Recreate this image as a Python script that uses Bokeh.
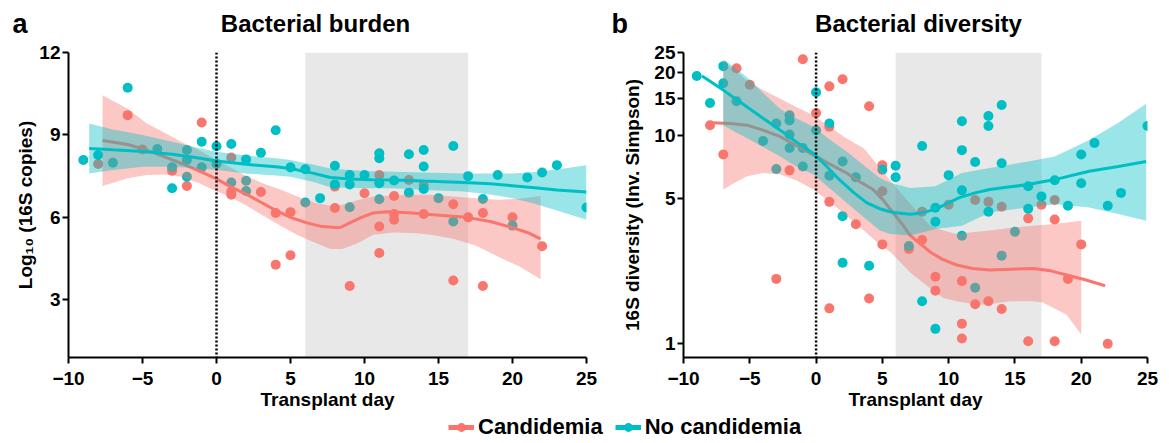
from bokeh.plotting import figure
from bokeh.layouts import row, column
from bokeh.models import (Range1d, FixedTicker, Span, BoxAnnotation, Label, Legend,
                          LegendItem, PrintfTickFormatter)
from bokeh.embed import file_html
from bokeh.resources import INLINE

RED = "#F8766D"
TEAL = "#00BFC4"
FONT = "Liberation Sans"

# ---------------- data: panel a (bacterial burden, log10 16S copies) ----------------
burden_cand_day = [-8, -6, -5, -3, -2, -1, 1, 1, 1, 3, 4, 4, 5, 5, 8, 8, 9, 10, 11, 11, 11,
                   12, 12, 12, 13, 14, 14, 16, 16, 17, 18, 18, 20, 22]
burden_cand_val = [7.94, 9.72, 8.47, 7.7, 7.14, 9.45, 8.18, 6.94, 6.82, 6.92, 6.16, 4.28, 6.19, 4.62,
                   7.12, 6.34, 3.5, 6.88, 7.54, 5.67, 4.7, 6.78, 6.12, 5.91, 7.36, 7.18, 6.12, 6.48,
                   3.7, 6.0, 6.16, 3.5, 6.0, 4.95]
burden_nocand_day = [-9, -8, -7, -6, -4, -3, -3, -2, -2, -2, -1, -1, 0, 0, 1, 1, 2, 2, 2, 3, 4, 5,
                     6, 6, 7, 8, 8, 9, 9, 9, 10, 11, 11, 11, 11, 12, 13, 13, 14, 14, 14, 15, 16, 16,
                     17, 18, 19, 20, 21, 22, 23, 25]
burden_nocand_val = [8.09, 8.27, 7.99, 10.72, 8.49, 7.82, 7.06, 8.45, 8.09, 7.48, 8.75, 7.82, 8.59,
                     7.95, 8.67, 7.27, 8.11, 7.33, 6.96, 8.35, 9.17, 7.82, 7.75, 6.54, 6.7, 7.88, 7.2,
                     7.54, 7.2, 6.37, 7.54, 8.33, 8.15, 7.24, 6.66, 7.34, 8.3, 6.9, 8.45, 7.85, 7.03,
                     6.7, 8.6, 5.85, 7.5, 6.67, 7.54, 5.7, 7.45, 7.63, 7.9, 6.36]

# smooth fits
burden_cand_fit_day = [-7.7, -6, -4.7, -3.5, -2.4, -1, 0, 1, 2.1, 3, 3.9, 5, 6.1, 7, 8, 8.4, 9, 9.8,
                       10.6, 11.5, 13, 14, 15.5, 16.9, 18.5, 20.1, 21, 21.9]
burden_cand_fit = [8.8, 8.65, 8.45, 8.2, 7.97, 7.65, 7.4, 7.1, 6.82, 6.55, 6.28, 6.0, 5.8, 5.68, 5.63,
                   5.64, 5.8, 6.0, 6.16, 6.2, 6.17, 6.12, 6.06, 6.0, 5.85, 5.61, 5.45, 5.22]
burden_cand_ci_day = [-7.7, -6, -4.7, -3.5, -2.4, -1.2, -0.2, 1, 2.1, 3.2, 4.4, 5.5, 6.7, 7.7, 8.5,
                      9.5, 10.6, 12, 13.5, 14.5, 16, 17.5, 19, 20.5, 21.9]
burden_cand_hi = [10.44, 9.95, 9.42, 9.08, 8.75, 8.45, 8.15, 7.8, 7.48, 7.22, 7.0, 6.75, 6.52, 6.42,
                  6.46, 6.62, 6.76, 6.8, 6.82, 6.82, 6.76, 6.7, 6.64, 6.68, 6.78]
burden_cand_lo = [7.14, 7.42, 7.54, 7.56, 7.48, 7.25, 7.0, 6.72, 6.4, 6.05, 5.67, 5.35, 5.07, 4.85,
                  4.85, 5.05, 5.37, 5.45, 5.42, 5.37, 5.22, 4.98, 4.58, 4.2, 3.75]
burden_nocand_fit_day = [-8.6, -7, -5, -3, -1, 0, 2, 4, 5, 6.5, 7.7, 9, 10.5, 12, 14, 16.7, 18.5,
                         20, 21.5, 23, 25]
burden_nocand_fit = [8.51, 8.46, 8.4, 8.3, 8.14, 8.05, 7.93, 7.84, 7.78, 7.61, 7.45, 7.4, 7.37, 7.36,
                     7.32, 7.27, 7.22, 7.15, 7.08, 7.0, 6.92]
burden_nocand_hi = [9.42, 9.2, 9.0, 8.75, 8.5, 8.39, 8.25, 8.15, 8.09, 7.92, 7.78, 7.72, 7.68, 7.66,
                    7.63, 7.6, 7.6, 7.6, 7.65, 7.74, 7.9]
burden_nocand_lo = [7.6, 7.72, 7.84, 7.84, 7.78, 7.72, 7.6, 7.52, 7.48, 7.3, 7.1, 7.08, 7.06, 7.06,
                    7.0, 6.94, 6.83, 6.7, 6.5, 6.25, 5.91]

# ---------------- data: panel b (bacterial diversity, inverse Simpson) ----------------
div_cand_day = [-8, -7, -6, -5, -3, -2, -1, 0, 1, 1, 1, 1, 2, 3, 4, 4, 5, 5, 5, 7, 8, 8, 9, 9, 10,
                11, 11, 11, 12, 12, 13, 13, 14, 14, 16, 16, 17, 18, 18, 18, 19, 20, 22]
div_cand_val = [11.2, 8.1, 21, 17.5, 2.05, 6.8, 23.2, 12.8, 17.2, 11.0, 4.8, 1.48, 18.6, 3.75, 13.8,
                1.65, 7.2, 5.4, 3.0, 2.85, 4.3, 3.15, 2.1, 1.8, 4.65, 2.0, 1.25, 1.06, 4.9, 1.55,
                4.8, 1.6, 4.55, 1.47, 4.0, 1.03, 4.65, 4.9, 3.95, 1.03, 2.05, 3.0, 1.0]
div_nocand_day = [-9, -8, -7, -7, -6, -4, -3, -3, -2, -2, -2, -2, -1, -1, 0, 0, 1, 1, 2, 2, 2, 3, 4,
                  5, 6, 6, 7, 8, 8, 9, 9, 9, 10, 11, 11, 11, 11, 12, 12, 13, 13, 13, 14, 14, 14, 15,
                  16, 16, 17, 18, 19, 20, 20, 21, 22, 23, 25]
div_nocand_val = [19.3, 14.3, 21.5, 17.8, 14.6, 9.4, 11.4, 6.9, 12.5, 11.8, 10.1, 8.7, 8.7, 7.1,
                  16.1, 10.6, 11.4, 6.4, 7.5, 4.1, 2.45, 6.3, 2.37, 6.85, 7.15, 6.3, 2.95, 8.9, 1.6,
                  4.5, 3.85, 1.18, 6.45, 11.7, 8.5, 5.45, 3.3, 7.45, 1.86, 12.4, 11.1, 4.3, 14.0,
                  7.35, 2.65, 3.45, 5.7, 4.45, 5.1, 6.1, 4.6, 8.1, 5.9, 9.2, 4.6, 5.3, 11.1]

div_cand_fit_day = [-7.85, -6.5, -5.2, -4, -2.7, -1.5, -0.2, 1, 2.3, 3.3, 4.3, 5, 5.8, 6.5, 7.1,
                    8.6, 9.5, 10.6, 11.8, 13.1, 14.7, 16.4, 17.7, 18.9, 20.3, 21.8]
div_cand_fit = [11.5, 11.4, 11.2, 10.6, 9.86, 8.95, 8.07, 7.3, 6.6, 6.0, 5.5, 4.95, 4.27, 3.75,
                3.31, 2.76, 2.55, 2.39, 2.3, 2.26, 2.28, 2.3, 2.24, 2.14, 2.03, 1.9]
div_cand_ci_day = [-7, -6, -5.2, -4, -2.7, -1.5, -0.2, 1, 2.3, 3.6, 4.8, 5.6, 6.4, 7.1, 8.6, 9.6,
                   10.6, 12.1, 13.1, 14.6, 16.4, 17.1, 18.9, 20]
div_cand_hi = [22.7, 20.2, 18.3, 16.5, 15.0, 13.7, 12.5, 11.0, 9.68, 8.67, 7.0, 6.1, 5.3, 4.7,
               3.69, 3.5, 3.37, 3.45, 3.5, 3.6, 3.69, 3.72, 3.82, 3.9]
div_cand_lo = [5.5, 6.0, 6.37, 6.6, 6.5, 6.1, 5.5, 4.8, 4.12, 3.5, 3.0, 2.76, 2.45, 2.2, 1.85,
               1.66, 1.6, 1.54, 1.55, 1.6, 1.6, 1.58, 1.38, 1.11]
div_nocand_fit_day = [-8.6, -7, -5.2, -4, -2.7, -1.5, -0.2, 0.8, 1.8, 2.8, 3.8, 4.8, 5.8, 7.1, 8,
                      9, 10, 10.8, 12, 13.1, 14.5, 16, 18, 20.6, 22.8, 24.9]
div_nocand_fit = [19.3, 16.5, 13.7, 12.1, 10.6, 9.3, 8.2, 7.1, 6.1, 5.35, 4.76, 4.45, 4.27, 4.19,
                  4.25, 4.43, 4.75, 5.03, 5.3, 5.5, 5.65, 5.81, 6.14, 6.73, 7.1, 7.5]
div_nocand_ci_day = [-7, -6, -5.2, -4, -2.7, -1.5, -0.2, 1, 2.3, 3.6, 4.8, 5.6, 7.1, 9, 11, 13.1,
                     16, 18, 20.6, 22.8, 24.9]
div_nocand_hi = [23.2, 20.8, 19.0, 16.0, 13.4, 12.1, 11.0, 9.6, 8.37, 7.2, 6.25, 5.93, 5.6, 5.71,
                 6.6, 6.98, 7.5, 7.93, 9.5, 11.5, 14.2]
div_nocand_lo = [11.2, 10.3, 9.7, 8.8, 7.93, 7.1, 6.49, 5.6, 4.76, 4.05, 3.5, 3.37, 3.31, 3.56,
                 3.69, 4.27, 4.51, 4.67, 4.51, 4.2, 3.9]

x_ticks = [-10, -5, 0, 5, 10, 15, 20, 25]
x_tick_labels = {-10: "\u221210", -5: "\u22125"}
burden_ticks = [3, 6, 9, 12]
div_ticks = [1, 5, 10, 15, 20, 25]
window_days = (6, 17)
series_names = ["Candidemia", "No candidemia"]

W1, W2 = 608, 553
HEAD_H, ROW_H, FOOT_H = 38, 377, 28


def style(p, label_standoff):
    p.xaxis.ticker = FixedTicker(ticks=x_ticks)
    p.xaxis.major_label_overrides = x_tick_labels
    p.xaxis.axis_label = "Transplant day"
    for ax in p.axis:
        ax.axis_line_width = 2
        ax.axis_line_color = "black"
        ax.major_tick_line_width = 2
        ax.major_tick_line_color = "black"
        ax.major_tick_out = 6
        ax.major_tick_in = 0
        ax.minor_tick_line_color = None
        ax.major_label_text_font = FONT
        ax.major_label_text_font_size = "19px"
        ax.major_label_text_font_style = "bold"
        ax.major_label_text_color = "black"
        ax.axis_label_text_font = FONT
        ax.axis_label_text_font_size = "19px"
        ax.axis_label_text_font_style = "bold"
        ax.axis_label_text_color = "black"
    p.xaxis.major_label_standoff = 8
    p.yaxis.major_label_standoff = 2
    p.xaxis.axis_label_standoff = 1
    p.yaxis.axis_label_standoff = label_standoff
    p.xgrid.grid_line_color = None
    p.ygrid.grid_line_color = None
    p.outline_line_color = None
    p.background_fill_color = "white"


def panel(p, rd, rv, td, tv, rfd, rf, rcd, rhi, rlo, tfd, tf, tcd, thi, tlo):
    p.add_layout(BoxAnnotation(left=window_days[0], right=window_days[1], fill_color="#E8E8E8",
                               fill_alpha=1, line_alpha=0, level="underlay"))
    p.scatter(rd, rv, size=10, fill_color=RED, line_color=None)
    p.scatter(td, tv, size=10, fill_color=TEAL, line_color=None)
    p.varea(x=rcd, y1=rlo, y2=rhi, fill_color=RED, fill_alpha=0.4)
    p.line(rfd, rf, line_color=RED, line_width=3)
    p.varea(x=tcd, y1=tlo, y2=thi, fill_color=TEAL, fill_alpha=0.4)
    p.line(tfd, tf, line_color=TEAL, line_width=3)
    p.add_layout(Span(location=0, dimension="height", line_color="black", line_width=2.5,
                      line_dash="2 2"))


def bare(width, height):
    f = figure(width=width, height=height, output_backend="svg", toolbar_location=None,
               x_range=Range1d(0, 1), y_range=Range1d(0, 1), x_axis_type=None, y_axis_type=None,
               min_border=0)
    f.grid.grid_line_color = None
    f.outline_line_color = None
    return f


def label(p, x, y, text, size, align):
    p.add_layout(Label(x=x, y=y, x_units="screen", y_units="screen", text=text,
                       text_font=FONT, text_font_size=size, text_font_style="bold",
                       text_align=align, text_baseline="alphabetic", text_color="black"))


# ---------------- header (panel letters + titles) ----------------
head = bare(W1 + W2, HEAD_H)
label(head, 12, 15, "a", "27px", "left")
label(head, 315, 15, "Bacterial burden", "24px", "center")
label(head, 611, 15, "b", "27px", "left")
label(head, 918, 15, "Bacterial diversity", "24px", "center")

# ---------------- panel a ----------------
p1 = figure(width=W1, height=ROW_H, output_backend="svg", toolbar_location=None,
            x_range=Range1d(-10, 25), y_range=Range1d(0.9, 12),
            min_border_left=68, min_border_right=22, min_border_top=14, min_border_bottom=57)
style(p1, 0)
p1.yaxis.ticker = FixedTicker(ticks=burden_ticks)
p1.yaxis.axis_label = "Log\u2081\u2080 (16S copies)"
panel(p1, burden_cand_day, burden_cand_val, burden_nocand_day, burden_nocand_val,
      burden_cand_fit_day, burden_cand_fit, burden_cand_ci_day, burden_cand_hi, burden_cand_lo,
      burden_nocand_fit_day, burden_nocand_fit, burden_nocand_fit_day, burden_nocand_hi,
      burden_nocand_lo)

# ---------------- panel b ----------------
p2 = figure(width=W2, height=ROW_H, output_backend="svg", toolbar_location=None,
            x_range=Range1d(-10, 25), y_range=Range1d(0.86, 25), y_axis_type="log",
            min_border_left=75, min_border_right=14, min_border_top=10, min_border_bottom=58)
style(p2, 8)
p2.yaxis.ticker = FixedTicker(ticks=div_ticks)
p2.yaxis.formatter = PrintfTickFormatter(format="%d")
p2.yaxis.axis_label = "16S diversity (Inv. Simpson)"
panel(p2, div_cand_day, div_cand_val, div_nocand_day, div_nocand_val,
      div_cand_fit_day, div_cand_fit, div_cand_ci_day, div_cand_hi, div_cand_lo,
      div_nocand_fit_day, div_nocand_fit, div_nocand_ci_day, div_nocand_hi, div_nocand_lo)

# ---------------- footer legend (key glyphs only; their NaN data draws nothing) ----------------
foot = bare(W1 + W2, FOOT_H)
items = []
nan = float("nan")
for name, color in zip(series_names, [RED, TEAL]):
    ln = foot.line(x=[nan, nan], y=[nan, nan], line_color=color, line_width=5)
    dt = foot.scatter(x=[nan], y=[nan], fill_color=color, line_color=None, size=12)
    items.append(LegendItem(label=name, renderers=[ln, dt]))
legend = Legend(items=items, location=(448, 3), orientation="horizontal", glyph_width=26,
                glyph_height=22, label_height=22, label_text_font=FONT,
                label_text_font_size="22px", label_text_font_style="bold",
                label_text_color="black", label_standoff=4, spacing=12, padding=0, margin=0,
                border_line_alpha=0, background_fill_alpha=0)
foot.add_layout(legend, "center")

layout = column(head, row(p1, p2), foot, spacing=0)
open("out.html", "w").write(file_html(layout, INLINE))
